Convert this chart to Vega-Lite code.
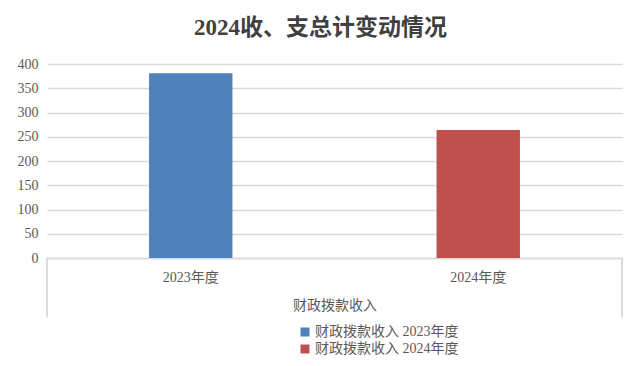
{
  "$schema": "https://vega.github.io/schema/vega-lite/v6.json",
  "autosize": {"type": "none"},
  "width": 575,
  "height": 194,
  "padding": {"left": 47, "top": 64, "right": 18, "bottom": 108},
  "background": "white",
  "config": {
    "view": {"stroke": null},
    "font": "Liberation Serif, Noto Sans CJK SC"
  },
  "title": {
    "text": "2024收、支总计变动情况",
    "fontSize": 23,
    "fontWeight": "bold",
    "color": "#404040",
    "font": "Liberation Serif, Noto Sans CJK SC",
    "anchor": "middle",
    "dx": -14,
    "offset": 17
  },
  "data": {
    "values": [
      {"year": "2023年度", "value": 381, "series": "财政拨款收入 2023年度"},
      {"year": "2024年度", "value": 264, "series": "财政拨款收入 2024年度"}
    ]
  },
  "resolve": {"scale": {"x": "independent"}, "axis": {"x": "independent"}},
  "layer": [
    {
      "mark": {"type": "bar"},
      "encoding": {
        "x": {
          "field": "year",
          "type": "nominal",
          "scale": {"paddingInner": 0.71, "paddingOuter": 0.355},
          "axis": {
            "title": "财政拨款收入",
            "titleFontSize": 14,
            "titleFontWeight": "normal",
            "titleColor": "#595959",
            "titlePadding": 14,
            "labelAngle": 0,
            "labelFontSize": 14,
            "labelColor": "#595959",
            "labelPadding": 12,
            "ticks": false,
            "domainColor": "#d9d9d9",
            "domainWidth": 1.5
          }
        },
        "y": {
          "field": "value",
          "type": "quantitative",
          "scale": {"domain": [0, 400], "nice": false},
          "axis": {
            "title": null,
            "values": [0, 50, 100, 150, 200, 250, 300, 350, 400],
            "tickCount": 12,
            "labelOverlap": false,
            "labelFontSize": 14,
            "labelColor": "#595959",
            "labelPadding": 9,
            "ticks": false,
            "domain": false,
            "grid": true,
            "gridColor": "#d9d9d9",
            "gridWidth": 1.5
          }
        },
        "color": {
          "field": "series",
          "type": "nominal",
          "scale": {"range": ["#4F81BD", "#C0504D"]},
          "legend": {
            "title": null,
            "orient": "none",
            "legendX": 251,
            "legendY": 261,
            "symbolType": "square",
            "symbolSize": 80,
            "symbolStrokeWidth": 0,
            "labelFontSize": 14,
            "labelColor": "#595959",
            "labelOffset": 3,
            "rowPadding": 3
          }
        }
      }
    },
    {
      "mark": {"type": "rule", "color": "#d9d9d9", "strokeWidth": 1.5},
      "encoding": {
        "x": {"datum": 0, "type": "quantitative", "scale": {"domain": [0, 1]}, "axis": null},
        "y": {"datum": 0, "type": "quantitative"},
        "y2": {"datum": -122}
      }
    },
    {
      "mark": {"type": "rule", "color": "#d9d9d9", "strokeWidth": 1.5},
      "encoding": {
        "x": {"datum": 1, "type": "quantitative", "scale": {"domain": [0, 1]}, "axis": null},
        "y": {"datum": 0, "type": "quantitative"},
        "y2": {"datum": -122}
      }
    }
  ]
}
